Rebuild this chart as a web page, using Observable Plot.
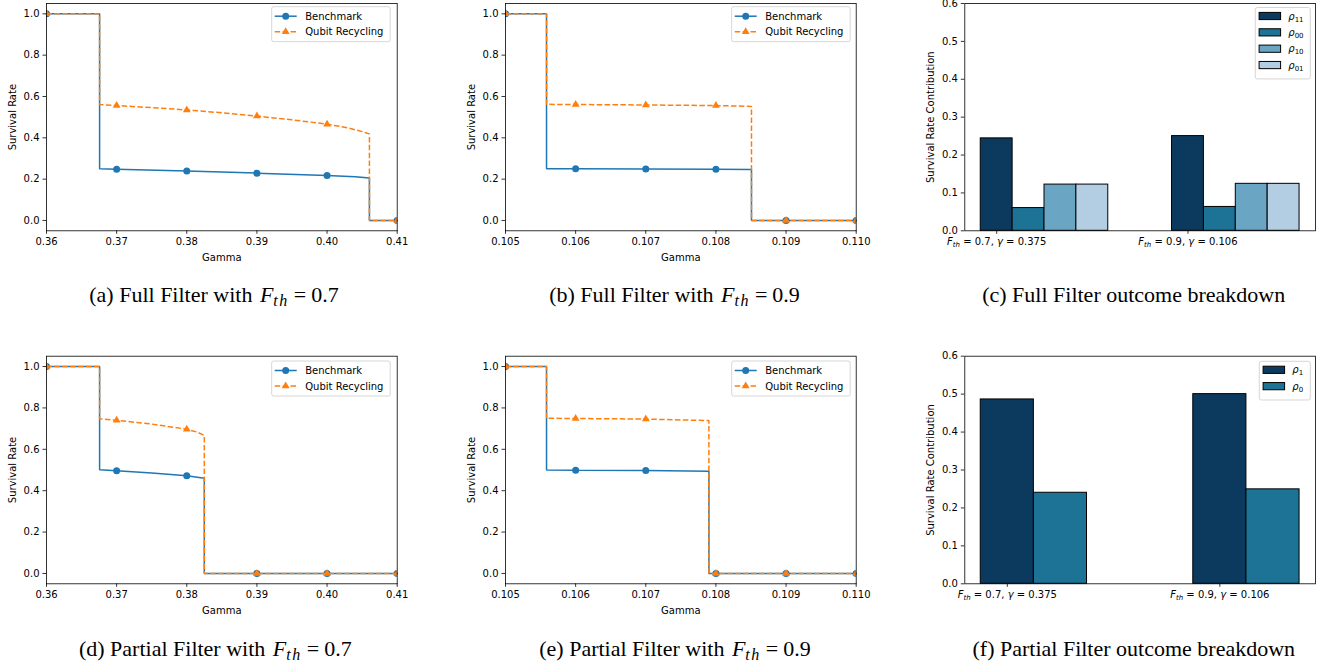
<!DOCTYPE html>
<html><head><meta charset="utf-8">
<script src="https://cdn.jsdelivr.net/npm/d3@7"></script>
<script src="https://cdn.jsdelivr.net/npm/@observablehq/plot@0.6"></script>
<style>
html,body{margin:0;padding:0;background:#fff;}
#root{position:relative;width:1325px;height:666px;overflow:hidden;background:#fff;}
.panel{position:absolute;}
#overlay{position:absolute;left:0;top:0;pointer-events:none;}
</style></head><body><div id="root"></div>
<script>
// ---------- data ----------
const seriesNames = ["Benchmark", "Qubit Recycling"];
const seriesColors = ["#1f77b4", "#ff7f0e"];

// (a) Full Filter, F_th = 0.7
const aBenchX = [0.36, 0.36757, 0.36757, 0.37, 0.38, 0.39, 0.40, 0.404, 0.40604, 0.40604, 0.41];
const aBenchY = [1.0, 1.0, 0.250, 0.248, 0.239, 0.229, 0.218, 0.211, 0.205, 0.0, 0.0];
const aQubitX = [0.36, 0.36757, 0.36757, 0.37, 0.375, 0.38, 0.385, 0.39, 0.395, 0.40, 0.403, 0.405, 0.40604, 0.40604, 0.41];
const aQubitY = [1.0, 1.0, 0.561, 0.556, 0.546, 0.535, 0.521, 0.505, 0.487, 0.466, 0.448, 0.430, 0.419, 0.0, 0.0];
const aMarkX = [0.36, 0.37, 0.38, 0.39, 0.40, 0.41];
const aMarkBench = [1.0, 0.248, 0.239, 0.229, 0.218, 0.0];
const aMarkQubit = [1.0, 0.556, 0.535, 0.505, 0.466, 0.0];

// (b) Full Filter, F_th = 0.9
const bBenchX = [0.105, 0.105585, 0.105585, 0.106, 0.107, 0.108, 0.108507, 0.108507, 0.110];
const bBenchY = [1.0, 1.0, 0.250, 0.250, 0.249, 0.248, 0.247, 0.0, 0.0];
const bQubitX = [0.105, 0.105585, 0.105585, 0.106, 0.107, 0.108, 0.108507, 0.108507, 0.110];
const bQubitY = [1.0, 1.0, 0.562, 0.561, 0.559, 0.556, 0.552, 0.0, 0.0];
const bMarkX = [0.105, 0.106, 0.107, 0.108, 0.109, 0.110];
const bMarkBench = [1.0, 0.250, 0.249, 0.248, 0.0, 0.0];
const bMarkQubit = [1.0, 0.561, 0.559, 0.556, 0.0, 0.0];

// (d) Partial Filter, F_th = 0.7
const dBenchX = [0.36, 0.36757, 0.36757, 0.37, 0.375, 0.38, 0.3825, 0.3825, 0.41];
const dBenchY = [1.0, 1.0, 0.501, 0.496, 0.485, 0.472, 0.460, 0.0, 0.0];
const dQubitX = [0.36, 0.36757, 0.36757, 0.37, 0.375, 0.38, 0.3815, 0.3825, 0.3825, 0.41];
const dQubitY = [1.0, 1.0, 0.748, 0.740, 0.722, 0.697, 0.683, 0.667, 0.0, 0.0];
const dMarkX = [0.36, 0.37, 0.38, 0.39, 0.40, 0.41];
const dMarkBench = [1.0, 0.496, 0.472, 0.0, 0.0, 0.0];
const dMarkQubit = [1.0, 0.740, 0.697, 0.0, 0.0, 0.0];

// (e) Partial Filter, F_th = 0.9
const eBenchX = [0.105, 0.105585, 0.105585, 0.106, 0.107, 0.1079, 0.1079, 0.110];
const eBenchY = [1.0, 1.0, 0.500, 0.499, 0.498, 0.494, 0.0, 0.0];
const eQubitX = [0.105, 0.105585, 0.105585, 0.106, 0.107, 0.1079, 0.1079, 0.110];
const eQubitY = [1.0, 1.0, 0.750, 0.749, 0.746, 0.739, 0.0, 0.0];
const eMarkX = [0.105, 0.106, 0.107, 0.108, 0.109, 0.110];
const eMarkBench = [1.0, 0.499, 0.498, 0.0, 0.0, 0.0];
const eMarkQubit = [1.0, 0.749, 0.746, 0.0, 0.0, 0.0];

const gamma07Ticks = [0.36, 0.37, 0.38, 0.39, 0.40, 0.41];
const gamma09Ticks = [0.105, 0.106, 0.107, 0.108, 0.109, 0.110];
const survivalTicks = [0.0, 0.2, 0.4, 0.6, 0.8, 1.0];
const contributionTicks = [0.0, 0.1, 0.2, 0.3, 0.4, 0.5, 0.6];

// (c)/(f) outcome breakdown
const groupFth = ["0.7", "0.9"];
const groupGamma = ["0.375", "0.106"];
const fullSeries = [["ρ", "11"], ["ρ", "00"], ["ρ", "10"], ["ρ", "01"]];
const fullColors = ["#0b3a5e", "#1c7396", "#6aa6c4", "#b3cee2"];
const rho11Full = [0.244, 0.250];
const rho00Full = [0.060, 0.063];
const rho10Full = [0.122, 0.124];
const rho01Full = [0.122, 0.124];
const partialSeries = [["ρ", "1"], ["ρ", "0"]];
const partialColors = ["#0b3a5e", "#1c7396"];
const rho1Partial = [0.486, 0.500];
const rho0Partial = [0.240, 0.249];

const captions = [
  {label: "(a) Full Filter with ", fth: "0.7"},
  {label: "(b) Full Filter with ", fth: "0.9"},
  {label: "(c) Full Filter outcome breakdown"},
  {label: "(d) Partial Filter with ", fth: "0.7"},
  {label: "(e) Partial Filter with ", fth: "0.9"},
  {label: "(f) Partial Filter outcome breakdown"}
];

// ---------- rendering ----------
const root = document.getElementById("root");
const svgNS = "http://www.w3.org/2000/svg";
const FONT = "'DejaVu Sans', sans-serif";
const TOP = {top: 0, height: 270, fy0: 3, fy1: 230.3};
const BOT = {top: 340, height: 270, fy0: 355.7, fy1: 583.3};

function place(el, left, top) {
  const d = document.createElement("div");
  d.className = "panel";
  d.style.left = left + "px";
  d.style.top = top + "px";
  d.appendChild(el);
  root.appendChild(d);
}

function linePanel(o) {
  const pts = (xs, ys) => xs.map((x, i) => ({x, y: ys[i]}));
  const chart = Plot.plot({
    width: o.width, height: o.row.height,
    marginLeft: o.fx0 - o.left, marginRight: o.left + o.width - o.fx1,
    marginTop: o.row.fy0 - o.row.top, marginBottom: o.row.top + o.row.height - o.row.fy1,
    style: {fontFamily: FONT, fontSize: "10px", color: "#000", background: "transparent", overflow: "visible"},
    x: {domain: [o.ticks[0], o.ticks[o.ticks.length - 1]]},
    y: {domain: [-0.05, 1.05]},
    marks: [
      Plot.line(pts(o.bx, o.by), {x: "x", y: "y", stroke: seriesColors[0], strokeWidth: 1.5, strokeLinecap: "square", strokeLinejoin: "miter", curve: "linear"}),
      Plot.dot(pts(o.mx, o.mb), {x: "x", y: "y", r: 3.5, fill: seriesColors[0], clip: true}),
      Plot.line(pts(o.qx, o.qy), {x: "x", y: "y", stroke: seriesColors[1], strokeWidth: 1.5, strokeDasharray: "5.5,2.4", strokeLinecap: "butt", strokeLinejoin: "miter", curve: "linear"}),
      Plot.dot(pts(o.mx, o.mq), {x: "x", y: "y", r: 2.9, symbol: "triangle", fill: seriesColors[1], clip: true}),
      Plot.frame({stroke: "#000", strokeWidth: 0.8}),
      Plot.axisX({ticks: o.ticks, tickFormat: d3.format(o.fmt), tickSize: 3.5, tickPadding: 3.5, strokeWidth: 0.8,
        label: "Gamma", labelAnchor: "center", labelArrow: "none", labelOffset: 30}),
      Plot.axisY({ticks: survivalTicks, tickFormat: d3.format(".1f"), tickSize: 3.5, tickPadding: 3.5, strokeWidth: 0.8,
        label: "Survival Rate", labelAnchor: "center", labelArrow: "none", labelOffset: 37.5})
    ]
  });
  place(chart, o.left, o.row.top);
}

function setFthLabel(el, fth, gamma) {
  el.textContent = "";
  const add = (s, attrs = {}) => {
    const t = document.createElementNS(svgNS, "tspan");
    t.textContent = s;
    for (const k in attrs) t.setAttribute(k, attrs[k]);
    el.appendChild(t);
  };
  add("F", {"font-style": "italic"});
  add("th", {"font-style": "italic", "font-size": "7px", "dy": "1.8"});
  add(" = " + fth + ", ", {"dy": "-1.8"});
  add("γ", {"font-style": "italic"});
  add(" = " + gamma);
}

function barPanel(o) {
  const n = o.values.length, w = o.barWidth, g = groupFth.length;
  const lo = -w / 2, hi = (g - 1) + (n - 0.5) * w, pad = 0.05 * (hi - lo);
  const idx = d3.range(g);
  const chart = Plot.plot({
    width: o.width, height: o.row.height,
    marginLeft: o.fx0 - o.left, marginRight: o.left + o.width - o.fx1,
    marginTop: o.row.fy0 - o.row.top, marginBottom: o.row.top + o.row.height - o.row.fy1,
    style: {fontFamily: FONT, fontSize: "10px", color: "#000", background: "transparent", overflow: "visible"},
    x: {domain: [lo - pad, hi + pad]},
    y: {domain: [0, 0.6]},
    marks: [
      ...o.values.map((vals, si) => Plot.rectY(idx.map(gi => ({gi, v: vals[gi]})), {
        x1: d => d.gi + si * w - w / 2, x2: d => d.gi + si * w + w / 2, y1: 0, y2: "v",
        fill: o.colors[si], stroke: "#000", strokeWidth: 1, insetLeft: 0, insetRight: 0})),
      Plot.frame({stroke: "#000", strokeWidth: 0.8}),
      Plot.axisX({ticks: idx, tickFormat: i => "F_th = " + groupFth[i] + ", γ = " + groupGamma[i], tickSize: 3.5, tickPadding: 3.5, strokeWidth: 0.8, label: null}),
      Plot.axisY({ticks: contributionTicks, tickFormat: d3.format(".1f"), tickSize: 3.5, tickPadding: 3.5, strokeWidth: 0.8,
        label: "Survival Rate Contribution", labelAnchor: "center", labelArrow: "none", labelOffset: 37.5})
    ]
  });
  chart.querySelectorAll('g[aria-label="x-axis tick label"] text').forEach((t, i) => setFthLabel(t, groupFth[i], groupGamma[i]));
  place(chart, o.left, o.row.top);
}

linePanel({left: 0, width: 440, row: TOP, fx0: 46, fx1: 396.7, ticks: gamma07Ticks, fmt: ".2f",
  bx: aBenchX, by: aBenchY, qx: aQubitX, qy: aQubitY, mx: aMarkX, mb: aMarkBench, mq: aMarkQubit});
linePanel({left: 440, width: 460, row: TOP, fx0: 505, fx1: 855.7, ticks: gamma09Ticks, fmt: ".3f",
  bx: bBenchX, by: bBenchY, qx: bQubitX, qy: bQubitY, mx: bMarkX, mb: bMarkBench, mq: bMarkQubit});
linePanel({left: 0, width: 440, row: BOT, fx0: 46, fx1: 396.7, ticks: gamma07Ticks, fmt: ".2f",
  bx: dBenchX, by: dBenchY, qx: dQubitX, qy: dQubitY, mx: dMarkX, mb: dMarkBench, mq: dMarkQubit});
linePanel({left: 440, width: 460, row: BOT, fx0: 505, fx1: 855.7, ticks: gamma09Ticks, fmt: ".3f",
  bx: eBenchX, by: eBenchY, qx: eQubitX, qy: eQubitY, mx: eMarkX, mb: eMarkBench, mq: eMarkQubit});
barPanel({left: 900, width: 425, row: TOP, fx0: 964.3, fx1: 1315, barWidth: 1 / 6,
  values: [rho11Full, rho00Full, rho10Full, rho01Full], colors: fullColors});
barPanel({left: 900, width: 425, row: BOT, fx0: 964.3, fx1: 1315, barWidth: 0.25,
  values: [rho1Partial, rho0Partial], colors: partialColors});

// ---------- overlay: legends and captions ----------
const ov = d3.select(root).append("svg").attr("id", "overlay").attr("width", 1325).attr("height", 666);

function lineLegend(x, y) {
  const g = ov.append("g").attr("transform", `translate(${x},${y})`).attr("font-family", FONT).attr("font-size", 10);
  g.append("rect").attr("x", 0.5).attr("y", 0.5).attr("width", 118.5).attr("height", 35).attr("rx", 2)
    .attr("fill", "white").attr("fill-opacity", 0.8).attr("stroke", "#cccccc").attr("stroke-width", 0.8);
  const rows = [10, 25.6];
  g.append("line").attr("x1", 3.5).attr("x2", 25.5).attr("y1", rows[0]).attr("y2", rows[0]).attr("stroke", seriesColors[0]).attr("stroke-width", 1.5);
  g.append("circle").attr("cx", 14.5).attr("cy", rows[0]).attr("r", 3.5).attr("fill", seriesColors[0]);
  g.append("line").attr("x1", 3.5).attr("x2", 25.5).attr("y1", rows[1]).attr("y2", rows[1]).attr("stroke", seriesColors[1]).attr("stroke-width", 1.5).attr("stroke-dasharray", "5.5,2.4");
  g.append("path").attr("d", d3.symbol(d3.symbolTriangle, 2.9 * 2.9 * Math.PI)()).attr("transform", `translate(14.5,${rows[1]})`).attr("fill", seriesColors[1]);
  seriesNames.forEach((s, i) => g.append("text").attr("x", 34).attr("y", rows[i]).attr("dy", "0.35em").text(s));
}
lineLegend(271.2, 6.2);
lineLegend(731.2, 6.2);
lineLegend(271.2, 360.5);
lineLegend(731.2, 360.5);

function barLegend(x, y, w, series, colors) {
  const g = ov.append("g").attr("transform", `translate(${x},${y})`).attr("font-family", FONT).attr("font-size", 10);
  const h = 3 + series.length * 16.35 + 3;
  g.append("rect").attr("x", 0.5).attr("y", 0.5).attr("width", w).attr("height", h).attr("rx", 2)
    .attr("fill", "white").attr("fill-opacity", 0.8).attr("stroke", "#cccccc").attr("stroke-width", 0.8);
  series.forEach((s, i) => {
    const cy = 9 + i * 16.35;
    g.append("rect").attr("x", 4.3).attr("y", cy - 3.6).attr("width", 21.5).attr("height", 7.2).attr("fill", colors[i]).attr("stroke", "#000").attr("stroke-width", 1);
    const t = g.append("text").attr("x", 33.5).attr("y", cy).attr("dy", "0.35em");
    t.append("tspan").attr("font-style", "italic").text(s[0]);
    t.append("tspan").attr("font-size", 7).attr("dy", 2).text(s[1]);
  });
}
barLegend(1254.8, 7, 55, fullSeries, fullColors);
barLegend(1258.8, 360.8, 51, partialSeries, partialColors);

function caption(cx, baseline, c) {
  const t = ov.append("text").attr("x", cx).attr("y", baseline).attr("text-anchor", "middle")
    .attr("font-family", "'Liberation Serif', 'Times New Roman', serif").attr("font-size", 22).attr("fill", "#000");
  t.append("tspan").text(c.label);
  if (c.fth !== undefined) {
    t.append("tspan").attr("font-style", "italic").attr("dx", 2).text("F");
    t.append("tspan").attr("font-style", "italic").attr("font-size", 16).attr("letter-spacing", 1.5).attr("dy", 4).text("th");
    t.append("tspan").attr("dy", -4).attr("dx", 5).text("=");
    t.append("tspan").attr("dx", 5).text(c.fth);
  }
}
const capPos = [[214, 302], [674.5, 302], [1133.7, 302], [215.3, 655.5], [675, 655.5], [1133.8, 655.5]];
captions.forEach((c, i) => caption(capPos[i][0], capPos[i][1], c));
</script></body></html>
